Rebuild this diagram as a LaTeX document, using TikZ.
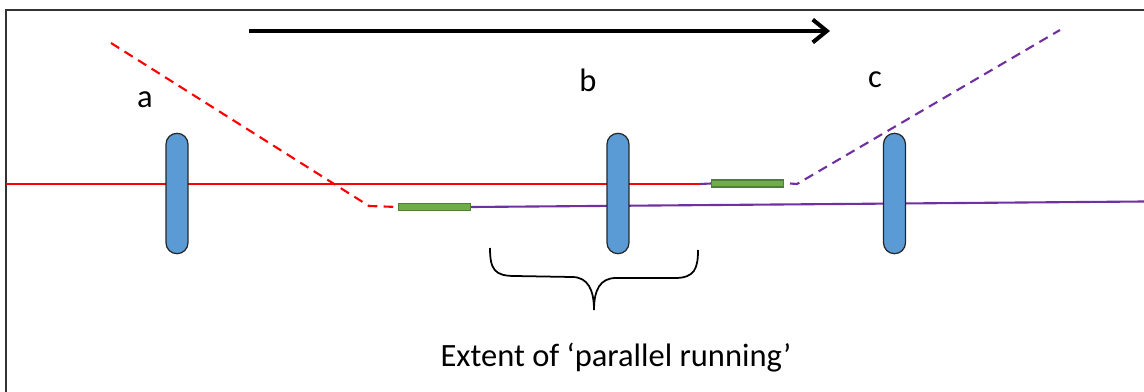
\documentclass[tikz,border=0pt]{standalone}
\usepackage{fontspec}
\setmainfont{Carlito}
\usetikzlibrary{arrows.meta}

\definecolor{lensblue}{HTML}{5B9BD5}
\definecolor{padgreen}{HTML}{70AD47}
\definecolor{padedge}{HTML}{507E32}
\definecolor{trackpurple}{HTML}{7030A0}

\tikzset{
    lens/.style={draw=black!85, fill=lensblue, line width=0.7pt, rounded corners=6.2pt,
        minimum width=12.5pt, minimum height=68.5pt, inner sep=0pt},
    pad/.style={draw=padedge, fill=padgreen, line width=0.6pt,
        minimum width=41pt, minimum height=4pt, inner sep=0pt},
    redtrack/.style={red, line width=1.2pt},
    purpletrack/.style={trackpurple, line width=1.2pt},
    gappy/.style={dash pattern=on 5.5pt off 3.6pt},
    lbl/.style={font=\fontsize{18.5}{20}\selectfont, inner sep=0pt}
}

\begin{document}
\begin{tikzpicture}[x=0.02cm, y=-0.02cm]

    \useasboundingbox (0,0) rectangle (1144,392);

    % frame
    \draw[black!80, line width=0.9pt] (6,392) -- (6,10) -- (1144,10);

    % direction arrow
    \coordinate (dirstart) at (249,31);
    \coordinate (dirend) at (830,31);
    \draw[line width=2.3pt, -{Straight Barb[length=8pt, width=13pt]}] (dirstart) -- (dirend);

    % pads
    \node[pad] (padA) at (434.5,207) {};
    \node[pad] (padB) at (747.5,183.5) {};

    % the red route
    \coordinate (redin) at (6,184);
    \coordinate (redout) at (700,184);
    \coordinate (redtop) at (111,43);
    \coordinate (redbend) at (369,206);
    \draw[redtrack] (redin) -- (redout);
    \draw[redtrack, gappy] (redtop) -- (redbend) -- (padA.west);

    % the purple route
    \coordinate (purpleout) at (1144,201.5);
    \coordinate (purplebend) at (797,184);
    \coordinate (purpletop) at (1060,30);
    \draw[purpletrack] (redout) -- (padB.west);
    \draw[purpletrack] (padA.east) -- (purpleout);
    \draw[purpletrack, gappy] (padB.east) ++(6,0) -- (purplebend) -- (purpletop);

    % lenses
    \node[lens] (lensA) at (177,193.5) {};
    \node[lens] (lensB) at (618,193.5) {};
    \node[lens] (lensC) at (894.5,193.5) {};

    \node[lbl] (labA) at (145,100) {a};
    \node[lbl] (labB) at (588,80) {b};
    \node[lbl] (labC) at (875,80) {c};

    % brace under b
    \coordinate (braceL) at (490,248);
    \coordinate (braceTip) at (594,310);
    \coordinate (braceR) at (698,250);
    \draw[black, line width=1pt]
        (braceL) .. controls (490,270) and (495,276) .. (515,276)
        -- (572,277) .. controls (588,277) and (594,290) .. (braceTip)
        .. controls (594,290) and (600,278) .. (616,278)
        -- (675,278) .. controls (695,278) and (698,268) .. (braceR);

    \node[lbl, anchor=base] (extent) at (616,366) {Extent of ‘parallel running’};

\end{tikzpicture}
\end{document}
